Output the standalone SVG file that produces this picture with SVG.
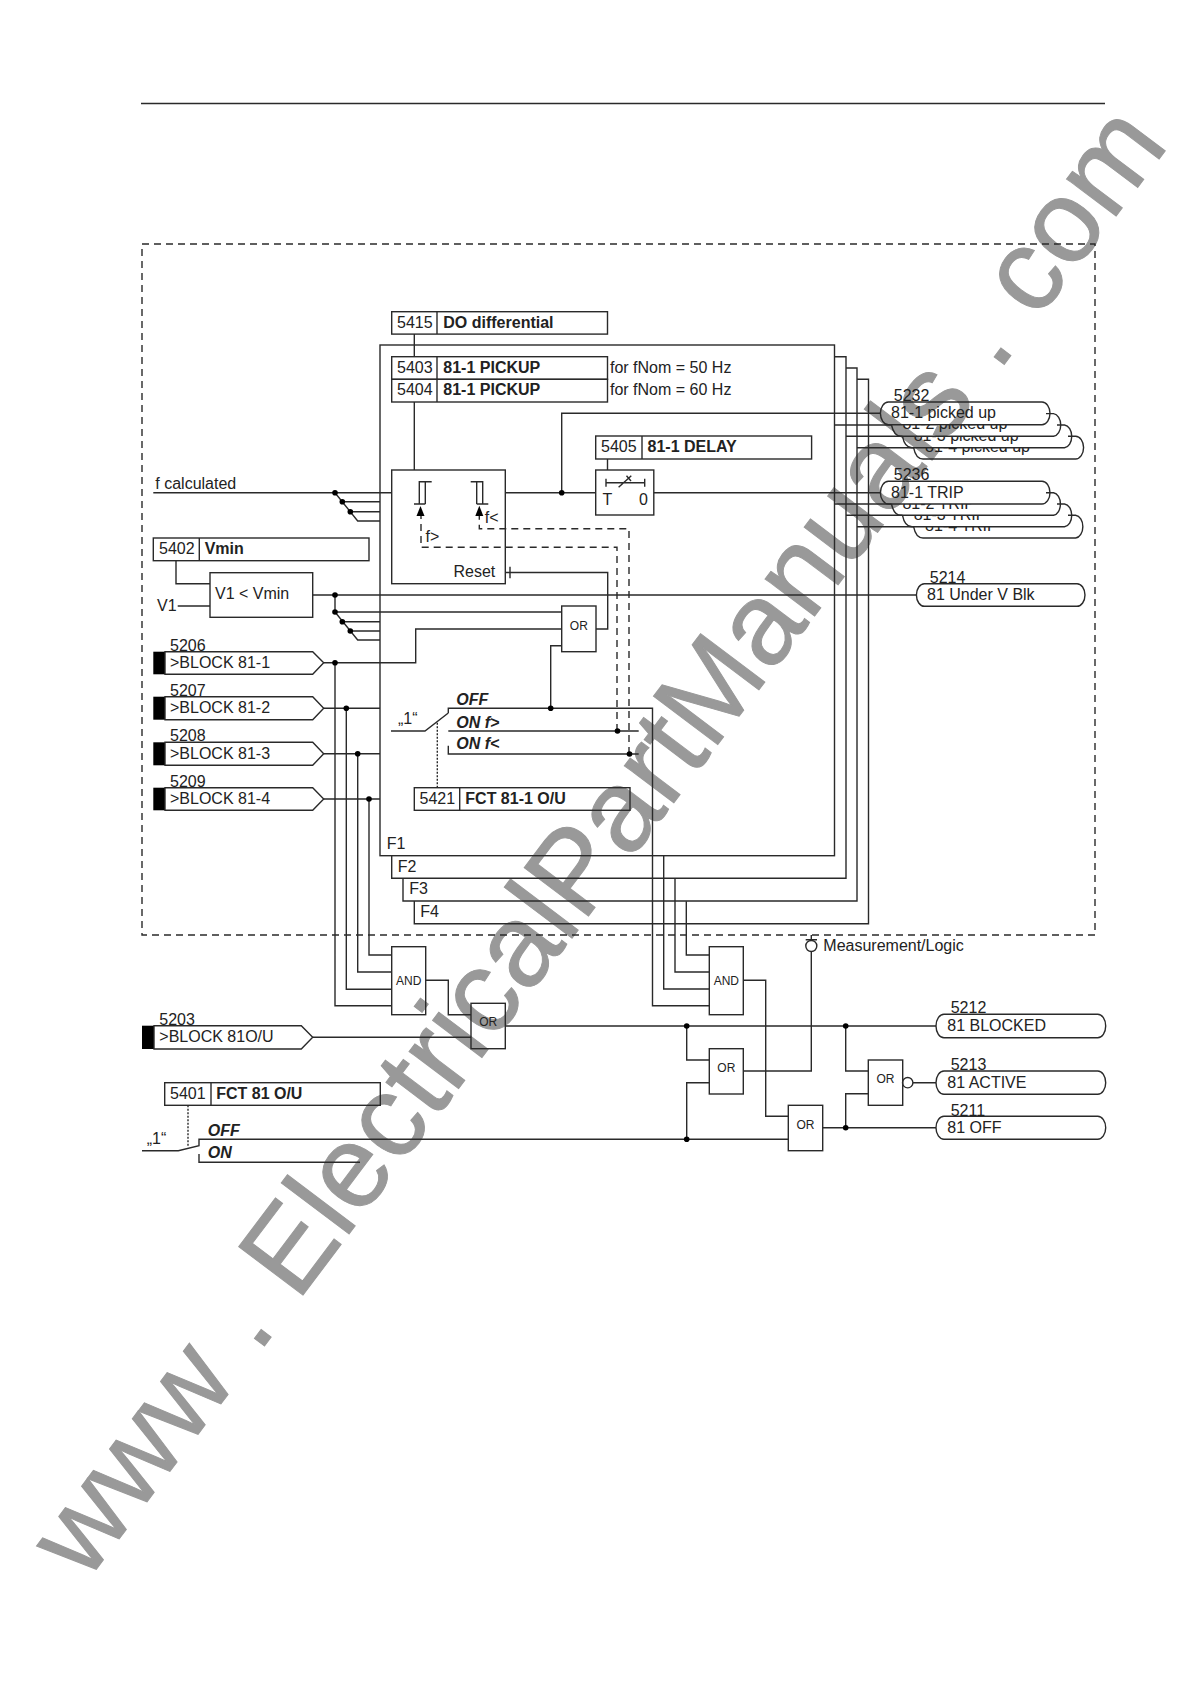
<svg xmlns="http://www.w3.org/2000/svg" width="1190" height="1684" viewBox="0 0 1190 1684">
<style>
text{font-family:"Liberation Sans",Arial,sans-serif;font-size:16px;fill:#222}
.b{font-weight:bold}
.bi{font-weight:bold;font-style:italic}
.g{font-size:12px;text-anchor:middle}
.wm{font-size:117px;fill:#999;stroke:#999;stroke-width:1}
.s,.s *{fill:none;stroke:#2a2a2a;stroke-width:1.4}
.d{stroke-dasharray:7 5}
.o{stroke-dasharray:2 1.5}
.k{fill:#000;stroke:none}
.dot,.s .dot *{fill:#000;stroke:none}
</style>
<defs>
<clipPath id="c2"><rect x="880" y="425" width="220" height="12"/></clipPath>
<clipPath id="c3"><rect x="880" y="436.5" width="220" height="11.5"/></clipPath>
<clipPath id="c4"><rect x="880" y="448" width="220" height="11.5"/></clipPath>
<clipPath id="c5"><rect x="880" y="504" width="220" height="11.5"/></clipPath>
<clipPath id="c6"><rect x="880" y="515.5" width="220" height="11.5"/></clipPath>
<clipPath id="c7"><rect x="880" y="527" width="220" height="11.5"/></clipPath>
</defs>
<text id="watermark" class="wm" transform="translate(86,1583) rotate(-53)">www . ElectricalPartManuals . com</text>
<line id="top-rule" class="s" x1="141" y1="103.5" x2="1105" y2="103.5"/>
<rect id="boundary" class="s d" x="142" y="244" width="953" height="691"/>

<g id="frames" class="s">
<rect x="380" y="345" width="454.5" height="510.7"/>
<path d="M391.7 855.7V878.3H846V356.7H834.5"/>
<path d="M403 878.3V901H857V368H846"/>
<path d="M414.3 901V923.7H868.5V379.3H857"/>
</g>
<g id="frame-labels">
<text x="386.7" y="849">F1</text><text x="397.7" y="871.7">F2</text><text x="409.3" y="894.3">F3</text><text x="420.3" y="917.4">F4</text>
</g>

<g id="connectors" class="s">
<path d="M414.3 334V356.7M414.3 402V470"/>
<path d="M153.3 492.7H391.7M335 492.7L357.7 521H380M342.3 501.7H380M350.3 511.7H380"/>
<path d="M176 560.7V583.7H210M177.7 606H210"/>
<path d="M312.7 595H916.4M335 595V612H561.7M335 612L357.7 640H380M342.3 621.7H380M350.3 631H380"/>
<path d="M596 629H607.7V572.5H505.3M510 566.7V578.3"/>
<path d="M323.7 662.7H415.7V629H561.7"/>
<path d="M561.7 645.7H550.7V708.3"/>
<path d="M323.7 708.3H380M323.7 753.7H380M323.7 799H380"/>
<path d="M335 662.7V1005.7H391.7M346.3 708.3V989.3H391.7M357.7 753.7V972H391.7M369 799V955H391.7"/>
<path d="M391 731H425L448.3 713M448.3 713V708.3H652.5V1005.7H709.3"/>
<path d="M448.3 731H638.7M448.3 745.7V754H638.7"/>
<path class="o" d="M437.3 787.7V722"/>
<path class="d" d="M617 731V547.3H421V516"/>
<path class="d" d="M629 754V528.7H479.3V516"/>
<path d="M505.3 492.7H595.7M653.8 492.7H880.4M561.7 492.7V413.3H880.4"/>
<path d="M607.5 459V470"/>
<path d="M834.5 425H891.5M846 436.3H902.5M857 447.7H913.6M834.5 504H891.5M846 515.3H902.5M857 526.7H913.6"/>
<path d="M663.7 855.7V989H709.3M675 878.3V972H709.3M686.3 901.3V955H709.3"/>
<path d="M425.7 980.3H448.3V1014.7H471M312.7 1037.3H471"/>
<path d="M505.3 1026H936M686.7 1026V1060H709.3M686.7 1139.3V1082.7H709.3"/>
<path d="M743.3 1071H811.3V951.5M811.3 939.7V935M805.7 939.7H817"/>
<path d="M743.3 980.3H765.7V1116.3H788.3"/>
<path d="M822.7 1127.7H936M845.7 1127.7V1093.7H868.3M845.7 1026V1071H868.3M913 1082.7H936"/>
<path d="M142 1150.7H178.3L199 1145.7V1139.3H788.3M199 1154V1162.3H360"/>
<path class="o" d="M188 1105.3V1147"/>
<g class="dot">
<circle cx="335" cy="492.7" r="2.8"/><circle cx="342.3" cy="501.7" r="2.8"/><circle cx="350.3" cy="511.7" r="2.8"/>
<circle cx="335" cy="595" r="2.8"/><circle cx="335" cy="612" r="2.8"/><circle cx="342.3" cy="621.7" r="2.8"/><circle cx="350.3" cy="631" r="2.8"/>
<circle cx="335" cy="662.7" r="2.8"/><circle cx="346.3" cy="708.3" r="2.8"/><circle cx="357.7" cy="753.7" r="2.8"/><circle cx="369" cy="799" r="2.8"/>
<circle cx="550.7" cy="708.3" r="2.8"/><circle cx="617.5" cy="731" r="2.8"/><circle cx="629.5" cy="754" r="2.8"/>
<circle cx="561.7" cy="492.7" r="2.8"/>
<circle cx="686.7" cy="1026" r="2.8"/><circle cx="845.7" cy="1026" r="2.8"/><circle cx="686.7" cy="1139.3" r="2.8"/><circle cx="845.7" cy="1127.7" r="2.8"/>
</g>
</g>

<g id="s5415"><rect class="s" x="391.7" y="311.7" width="215.8" height="22.4"/><path class="s" d="M437 311.7V334"/><text x="397" y="328">5415</text><text class="b" x="443.3" y="328">DO differential</text></g>
<g id="s5403"><rect class="s" x="391.7" y="356.7" width="215.8" height="22.6"/><path class="s" d="M437 356.7V379.3"/><text x="397" y="372.5">5403</text><text class="b" x="443.3" y="372.5">81-1 PICKUP</text><text x="610" y="372.5">for fNom = 50 Hz</text></g>
<g id="s5404"><rect class="s" x="391.7" y="379.3" width="215.8" height="22.7"/><path class="s" d="M437 379.3V402"/><text x="397" y="395">5404</text><text class="b" x="443.3" y="395">81-1 PICKUP</text><text x="610" y="395">for fNom = 60 Hz</text></g>
<g id="s5405"><rect class="s" x="595.7" y="436" width="215.9" height="23"/><path class="s" d="M642 436V459"/><text x="601" y="451.7">5405</text><text class="b" x="647.5" y="451.7">81-1 DELAY</text></g>
<g id="s5402"><rect class="s" x="153.3" y="538" width="215.7" height="22.7"/><path class="s" d="M199.3 538V560.7"/><text x="159" y="554">5402</text><text class="b" x="204.7" y="554">Vmin</text></g>
<g id="s5421"><rect class="s" x="414.3" y="787.7" width="215.7" height="22.6"/><path class="s" d="M459.7 787.7V810.3"/><text x="419.5" y="804">5421</text><text class="b" x="465.3" y="804">FCT 81-1 O/U</text></g>
<g id="s5401"><rect class="s" x="164.7" y="1082.7" width="215.6" height="22.6"/><path class="s" d="M211 1082.7V1105.3"/><text x="170" y="1099">5401</text><text class="b" x="216.2" y="1099">FCT 81 O/U</text></g>

<g id="f-calculated"><text x="155.3" y="488.7">f calculated</text></g>
<g id="v1"><text x="157" y="610.7">V1</text></g>

<g id="pickup-element">
<rect class="s" x="391.7" y="470" width="113.6" height="113.7"/>
<path class="s" d="M431.7 481.7H419.3V504M414 504H425.3M425.3 481.7V504M470.7 481.7H482.7V504M476.7 481.7V504M476.7 504H488.3"/>
<path class="k" d="M420.5 506L424.5 516H416.5Z"/><path class="k" d="M479.3 505.7L483.3 516H475.3Z"/>
<text x="425.5" y="541.8">f&gt;</text><text x="484.7" y="523">f&lt;</text><text x="453.5" y="577.2">Reset</text>
</g>
<g id="undervoltage"><rect class="s" x="210" y="572.7" width="102.7" height="44.6"/><text x="215" y="599.3">V1 &lt; Vmin</text></g>
<g id="timer">
<rect class="s" x="595.7" y="470" width="58.1" height="45"/>
<path class="s" d="M606 482.7H644.7M606 478.7V486.7M644.7 478.7V486.7M618.6 487.3L631.3 475.7M626.5 475.7L631 481"/>
<text x="602.4" y="505">T</text><text x="639" y="505">0</text>
</g>
<g id="or-reset"><rect class="s" x="561.7" y="606" width="34.3" height="45.7"/><text class="g" x="578.8" y="629.5">OR</text></g>
<g id="switch-81-1"><text x="398" y="724.3">„1“</text><text class="bi" x="456.3" y="705">OFF</text><text class="bi" x="456.3" y="727.5">ON f&gt;</text><text class="bi" x="456.3" y="749.2">ON f&lt;</text></g>

<g id="b5206"><rect class="k" x="153.3" y="651.7" width="11.7" height="22.6"/><path class="s" d="M165 651.7H312.7L323.7 662.7L312.7 674.3H165Z"/><text x="170" y="650.7">5206</text><text x="170" y="667.7">&gt;BLOCK 81-1</text></g>
<g id="b5207"><rect class="k" x="153.3" y="696.7" width="11.7" height="23"/><path class="s" d="M165 696.7H312.7L323.7 708.3L312.7 719.7H165Z"/><text x="170" y="696">5207</text><text x="170" y="713.3">&gt;BLOCK 81-2</text></g>
<g id="b5208"><rect class="k" x="153.3" y="742.3" width="11.7" height="23"/><path class="s" d="M165 742.3H312.7L323.7 753.7L312.7 765.3H165Z"/><text x="170" y="741.3">5208</text><text x="170" y="758.7">&gt;BLOCK 81-3</text></g>
<g id="b5209"><rect class="k" x="153.3" y="787.7" width="11.7" height="22.6"/><path class="s" d="M165 787.7H312.7L323.7 799L312.7 810.3H165Z"/><text x="170" y="786.7">5209</text><text x="170" y="804">&gt;BLOCK 81-4</text></g>
<g id="b5203"><rect class="k" x="142" y="1025.7" width="12" height="23.3"/><path class="s" d="M154 1025.7H301.3L312.7 1037.3L301.3 1049H154Z"/><text x="159.3" y="1025.3">5203</text><text x="159.3" y="1041.7">&gt;BLOCK 81O/U</text></g>

<g id="o5232-stack">
<path class="s" d="M913.6 447.7C915 455 918 459 923 459H1075.6A8 11.4 0 0 0 1075.6 436.2H1068"/>
<text clip-path="url(#c4)" x="925" y="451.8">81-4 picked up</text>
<path class="s" d="M902.5 436.3C904 444 907 447.7 912 447.7H1064.5A8 11.4 0 0 0 1064.5 425H1057"/>
<text clip-path="url(#c3)" x="913.7" y="440.5">81-3 picked up</text>
<path class="s" d="M891.5 425C893 432 896 436.3 901 436.3H1053.5A8 11.4 0 0 0 1053.5 413.6H1046"/>
<text clip-path="url(#c2)" x="902.4" y="429.1">81-2 picked up</text>
</g>
<g id="o5232"><path class="s" d="M888.4 402H1042A8 11.35 0 0 1 1042 424.7H888.4A8 11.35 0 0 1 888.4 402Z"/><text x="893.8" y="401">5232</text><text x="891" y="417.7">81-1 picked up</text></g>
<g id="o5236-stack">
<path class="s" d="M913.6 526.7C915 534 918 538 923 538H1075.6A8 11.4 0 0 0 1075.6 515.3H1068"/>
<text clip-path="url(#c7)" x="925" y="531.4">81-4 TRIP</text>
<path class="s" d="M902.5 515.3C904 523 907 526.7 912 526.7H1064.5A8 11.4 0 0 0 1064.5 504H1057"/>
<text clip-path="url(#c6)" x="913.7" y="520">81-3 TRIP</text>
<path class="s" d="M891.5 504C893 511 896 515.3 901 515.3H1053.5A8 11.4 0 0 0 1053.5 492.7H1046"/>
<text clip-path="url(#c5)" x="902.4" y="508.7">81-2 TRIP</text>
</g>
<g id="o5236"><path class="s" d="M888.4 481.3H1042A8 11.35 0 0 1 1042 504H888.4A8 11.35 0 0 1 888.4 481.3Z"/><text x="893.8" y="480.3">5236</text><text x="891" y="498">81-1 TRIP</text></g>
<g id="o5214"><path class="s" d="M924.4 583.7H1077A8 11.3 0 0 1 1077 606.3H924.4A8 11.3 0 0 1 924.4 583.7Z"/><text x="929.8" y="582.7">5214</text><text x="927" y="599.5">81 Under V Blk</text></g>
<g id="o5212"><path class="s" d="M944 1014.3H1097.7A8 11.7 0 0 1 1097.7 1037.7H944A8 11.7 0 0 1 944 1014.3Z"/><text x="950.7" y="1013.3">5212</text><text x="947.3" y="1030.7">81 BLOCKED</text></g>
<g id="o5213"><path class="s" d="M944 1071H1097.7A8 11.65 0 0 1 1097.7 1094.3H944A8 11.65 0 0 1 944 1071Z"/><text x="950.7" y="1070.3">5213</text><text x="947.3" y="1087.7">81 ACTIVE</text></g>
<g id="o5211"><path class="s" d="M944 1116.3H1097.7A8 11.5 0 0 1 1097.7 1139.3H944A8 11.5 0 0 1 944 1116.3Z"/><text x="950.7" y="1115.7">5211</text><text x="947.3" y="1132.7">81 OFF</text></g>

<g id="and-left"><rect class="s" x="391.7" y="946.7" width="34" height="68"/><text class="g" x="408.7" y="985">AND</text></g>
<g id="or-left"><rect class="s" x="471" y="1003.3" width="34.3" height="45.4"/><text class="g" x="488.2" y="1026">OR</text></g>
<g id="and-right"><rect class="s" x="709.3" y="946.7" width="34" height="68"/><text class="g" x="726.3" y="985">AND</text></g>
<g id="or-1"><rect class="s" x="709.3" y="1048.7" width="34" height="45.3"/><text class="g" x="726.3" y="1072">OR</text></g>
<g id="or-2"><rect class="s" x="788.3" y="1105.3" width="34.4" height="45.4"/><text class="g" x="805.5" y="1128.5">OR</text></g>
<g id="or-3"><rect class="s" x="868.3" y="1060" width="34.4" height="45.3"/><text class="g" x="885.5" y="1083">OR</text><circle class="s" cx="907.7" cy="1082.7" r="5.2"/></g>
<g id="measurement"><circle class="s" cx="811.3" cy="946" r="5.5"/><text x="823.3" y="950.7">Measurement/Logic</text></g>
<g id="switch-81"><text x="146.7" y="1144">„1“</text><text class="bi" x="207.7" y="1135.7">OFF</text><text class="bi" x="207.7" y="1157.7">ON</text></g>
</svg>
